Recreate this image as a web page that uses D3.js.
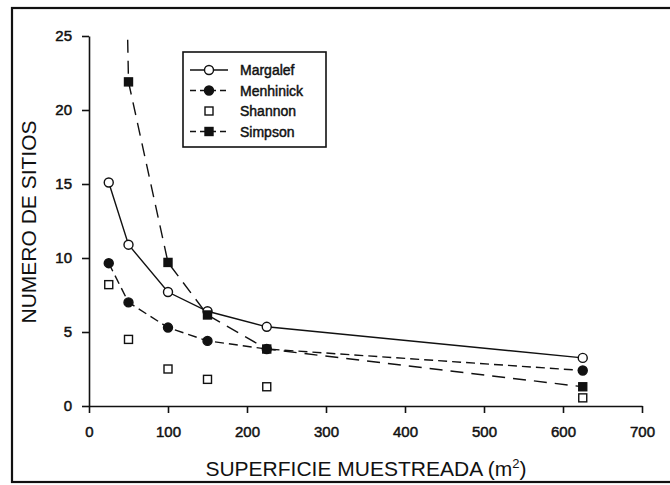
<!DOCTYPE html>
<html>
<head>
<meta charset="utf-8">
<script src="https://cdn.jsdelivr.net/npm/d3@7"></script>
<style>
  body { margin: 0; background: #fff; }
  svg { display: block; font-family: "Liberation Sans", Arial, sans-serif; }
  .axis text { font-size: 15px; fill: #111; stroke: #111; stroke-width: 0.5; }
  .axis path, .axis line { stroke: #111; stroke-width: 1.6; }
  .legend-label { stroke: #111; stroke-width: 0.45; }
</style>
</head>
<body>
<svg width="670" height="485"></svg>
<script>
// superficie muestreada (m2)
const superficie = [25, 50, 100, 150, 225, 625]

const margalef = [15.1, 10.9, 7.7, 6.4, 5.35, 3.25]
const menhinick = [9.65, 7.0, 5.3, 4.4, 3.85, 2.4]
const shannon = [8.2, 4.5, 2.5, 1.8, 1.3, 0.55]
const simpson = [90, 21.9, 9.7, 6.15, 3.85, 1.3]

const xTicks = [0, 100, 200, 300, 400, 500, 600, 700]
const yTicks = [0, 5, 10, 15, 20, 25]

const svg = d3.select('svg')

const x = d3.scaleLinear().domain([0, 700]).range([89, 642])
const y = d3.scaleLinear().domain([0, 25]).range([406, 36])

// outer frame (right side falls outside the picture)
svg.append('rect')
  .attr('x', 12).attr('y', 8)
  .attr('width', 670).attr('height', 474)
  .attr('fill', 'none')
  .attr('stroke', '#111')
  .attr('stroke-width', 2.2)

svg.append('defs').append('clipPath').attr('id', 'plot')
  .append('rect')
  .attr('x', 80).attr('y', 36)
  .attr('width', 580).attr('height', 380)

// axes
svg.append('g')
  .attr('class', 'axis')
  .attr('transform', `translate(0, ${y(0)})`)
  .call(d3.axisBottom(x).tickValues(xTicks).tickSize(7).tickSizeOuter(0).tickPadding(13))

svg.append('g')
  .attr('class', 'axis')
  .attr('transform', `translate(${x(0)}, 0)`)
  .call(d3.axisLeft(y).tickValues(yTicks).tickSize(7).tickSizeOuter(0).tickPadding(10))

// axis titles
svg.append('text')
  .attr('x', 366).attr('y', 476)
  .attr('text-anchor', 'middle')
  .attr('font-size', 21)
  .attr('fill', '#111')
  .text('SUPERFICIE MUESTREADA (m')
  .append('tspan').attr('dy', -8).attr('font-size', 13).text('2')
  .select(function () { return this.parentNode })
  .append('tspan').attr('dy', 8).text(')')

svg.append('text')
  .attr('transform', 'translate(36, 222) rotate(-90)')
  .attr('text-anchor', 'middle')
  .attr('font-size', 21)
  .attr('fill', '#111')
  .text('NUMERO DE SITIOS')

// series
const series = [
  {name: 'Margalef', values: margalef, dash: null, line: true, shape: 'circle', fill: '#fff'},
  {name: 'Menhinick', values: menhinick, dash: '9,5', line: true, shape: 'circle', fill: '#111'},
  {name: 'Shannon', values: shannon, dash: null, line: false, shape: 'square', fill: '#fff'},
  {name: 'Simpson', values: simpson, dash: '13,8', line: true, shape: 'square', fill: '#111'},
]

const line = d3.line()
  .x((d, i) => x(superficie[i]))
  .y(d => y(d))

const plot = svg.append('g').attr('clip-path', 'url(#plot)')

series.filter(s => s.line).forEach(s => {
  plot.append('path')
    .datum(s.values)
    .attr('d', line)
    .attr('fill', 'none')
    .attr('stroke', '#111')
    .attr('stroke-width', 1.4)
    .attr('stroke-dasharray', s.dash)
})

function drawMarker(g, s, cx, cy) {
  if (s.shape === 'circle') {
    g.append('circle')
      .attr('cx', cx).attr('cy', cy).attr('r', 4.5)
      .attr('fill', s.fill).attr('stroke', '#111').attr('stroke-width', 1.4)
  } else {
    g.append('rect')
      .attr('x', cx - 4).attr('y', cy - 4)
      .attr('width', 8).attr('height', 8)
      .attr('fill', s.fill).attr('stroke', '#111').attr('stroke-width', 1.4)
  }
}

series.forEach(s => {
  s.values.forEach((v, i) => {
    if (v <= 25) drawMarker(plot, s, x(superficie[i]), y(v))
  })
})

// legend
const legend = svg.append('g')
legend.append('rect')
  .attr('x', 183).attr('y', 52)
  .attr('width', 143).attr('height', 95)
  .attr('fill', '#fff')
  .attr('stroke', '#111')
  .attr('stroke-width', 1.6)

series.forEach((s, i) => {
  const ly = 70 + i * 20.5
  if (s.line) {
    legend.append('line')
      .attr('x1', 190).attr('x2', 228)
      .attr('y1', ly).attr('y2', ly)
      .attr('stroke', '#111')
      .attr('stroke-width', 1.4)
      .attr('stroke-dasharray', s.dash ? '6,4' : null)
  }
  drawMarker(legend, s, 209, ly)
  legend.append('text')
    .attr('class', 'legend-label')
    .attr('x', 240).attr('y', ly + 5)
    .attr('font-size', 14)
    .attr('fill', '#111')
    .text(s.name)
})
</script>
</body>
</html>
